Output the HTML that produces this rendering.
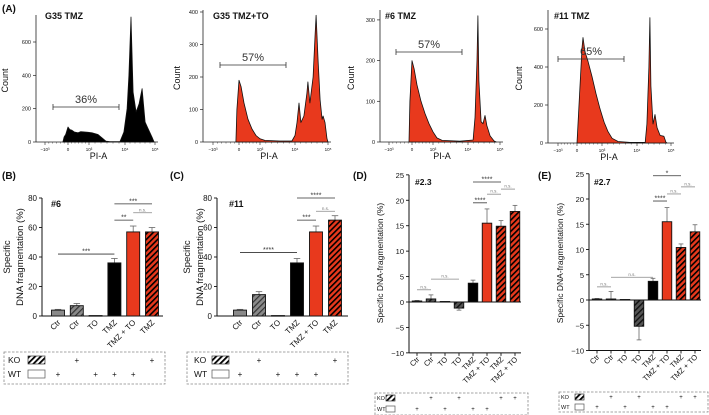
<!DOCTYPE html>
<html><head><meta charset="utf-8">
<style>
body{margin:0;background:#fff;}
svg{display:block;font-family:"Liberation Sans",Arial,sans-serif;}
</style></head>
<body>
<svg id="fig" width="709" height="415" viewBox="0 0 709 415" xmlns="http://www.w3.org/2000/svg">
<defs>
<pattern id="hatchRed" patternUnits="userSpaceOnUse" width="4" height="4" patternTransform="rotate(45)"><rect width="4" height="4" fill="#e8391d"/><rect width="1.6" height="4" fill="#000"/></pattern>
<pattern id="hatchGrey" patternUnits="userSpaceOnUse" width="4" height="4" patternTransform="rotate(45)"><rect width="4" height="4" fill="#8a8a8a"/><rect width="1.2" height="4" fill="#333"/></pattern>
<pattern id="hatchDark" patternUnits="userSpaceOnUse" width="4" height="4" patternTransform="rotate(45)"><rect width="4" height="4" fill="#555"/><rect width="1.4" height="4" fill="#111"/></pattern>
<pattern id="hatchLeg" patternUnits="userSpaceOnUse" width="4" height="4" patternTransform="rotate(45)"><rect width="4" height="4" fill="#fff"/><rect width="1.8" height="4" fill="#000"/></pattern>
</defs>
</svg>
<script>
// ===== Histogram data (u: decade position, -10^3=0, 0=1, 10^3=2, 10^4=3, 10^5=4) =====
const histA1U = [0.78,0.83,0.9,1,1.08,1.19,1.3,1.48,1.6,1.81,1.95,2.08,2.25,2.39,2.47,2.58,2.86,2.97,3.07,3.13,3.2,3.27,3.37,3.47,3.57,3.67,3.77,3.9,3.97];
const histA1C = [0,30,45,90,75,70,60,55,62,60,58,55,45,20,5,2,3,60,200,400,750,300,180,230,320,120,80,30,0];
const histA2U = [0.88,0.92,1,1.1,1.24,1.43,1.62,1.81,2,2.14,2.57,2.91,3,3.06,3.12,3.18,3.27,3.36,3.39,3.45,3.55,3.61,3.64,3.7,3.76,3.82,3.85,3.91,3.97,4];
const histA2C = [0,100,190,170,120,70,40,20,10,5,3,3,20,60,120,60,80,150,185,120,200,330,390,250,130,70,80,60,10,0];
const histA3U = [0.87,0.91,1,1.1,1.24,1.43,1.62,1.81,2,2.11,2.26,2.77,3.16,3.22,3.28,3.31,3.34,3.41,3.47,3.53,3.59,3.69,3.81,3.88];
const histA3C = [0,100,200,180,140,100,70,45,25,10,4,2,5,60,200,310,150,50,45,65,40,15,3,0];
const histA4U = [1,1.04,1.12,1.2,1.24,1.32,1.44,1.6,1.76,1.92,2.06,2.17,2.29,2.46,2.8,3.24,3.29,3.35,3.38,3.41,3.47,3.53,3.59,3.68,3.79,3.85,3.88];
const histA4C = [0,100,300,500,555,480,430,350,260,180,110,60,25,8,3,3,100,400,660,300,100,150,80,40,35,5,0];
const gatePct = ["36%","57%","57%","65%"];

// ===== Bar data =====
const catsB = ["Ctr","Ctr","TO","TMZ","TMZ + TO","TMZ"];
const valsB = [4,7,0.3,36,57,57];
const errB = [0.5,1.5,0,3,4,3];
const catsC = ["Ctr","Ctr","TO","TMZ","TMZ + TO","TMZ"];
const valsC = [4,14.5,0.3,36,57,65];
const errC = [0.5,2,0,3,4,3];
const catsD = ["Ctr","Ctr","TO","TO","TMZ","TMZ + TO","TMZ","TMZ + TO"];
const valsD = [0.2,0.6,0.1,-1.2,3.7,15.5,14.9,17.8];
const errD = [0.1,0.8,0,0.4,0.6,2.8,1.1,1.2];
const catsE = ["Ctr","Ctr","TO","TO","TMZ","TMZ + TO","TMZ","TMZ + TO"];
const valsE = [0.2,0.2,0.1,-5.2,3.7,15.5,10.4,13.5];
const errE = [0.1,1.5,0,2.7,0.6,2.8,0.7,1.4];
const ticksBC = [0,20,40,60,80];
const ticksDE = [-10,-5,0,5,10,15,20,25];
// significance: [from, to, value level, label]
const sigB = [[0,3,42,"***"],[3,4,65,"**"],[4,5,70,"n.s."],[3,5,76,"***"]];
const sigC = [[0,3,43,"****"],[3,4,65,"***"],[4,5,71,"n.s."],[3,5,80,"****"]];
const sigD = [[0,1,2.4,"n.s."],[1,3,4.5,"n.s."],[4,5,19.5,"****"],[5,6,21.2,"n.s."],[6,7,22.2,"n.s."],[4,6,23.6,"****"]];
const sigE = [[0,1,2.6,"n.s."],[1,4,4.5,"n.s."],[4,5,19.6,"****"],[5,6,21,"n.s."],[6,7,22.4,"n.s."],[4,6,24.6,"*"]];
const koB = [0,1,0,0,0,1], wtB = [1,0,1,1,1,0];
const koC = [0,1,0,0,0,1], wtC = [1,0,1,1,1,0];
const koD = [0,1,0,1,0,0,1,1], wtD = [1,0,1,0,1,1,0,0];
const koE = [0,1,0,1,0,0,1,1], wtE = [1,0,1,0,1,1,0,0];

const svg = document.getElementById('fig');
const NS = "http://www.w3.org/2000/svg";
function el(tag, attrs, parent, text){
  const e = document.createElementNS(NS, tag);
  for (const k in attrs) e.setAttribute(k, attrs[k]);
  if (text !== undefined) e.textContent = text;
  (parent||svg).appendChild(e);
  return e;
}
function txt(x,y,s,size,parent,extra){
  const a = {x:x,y:y,'font-size':size,fill:'#111'};
  if (extra) for (const k in extra) a[k]=extra[k];
  return el('text',a,parent,s);
}

// ===== Histograms =====
function hist(cfg){
  const g = el('g',{});
  
  
  const tp = cfg.tickPx;
  const xOf = u => { const i = Math.min(3, Math.max(0, Math.floor(u))); return tp[i] + (u - i)*(tp[i+1]-tp[i]); };
  const yOf = c => cfg.base - c*cfg.pxPer;
  el('line',{x1:cfg.ax,y1:cfg.top,x2:cfg.ax,y2:cfg.base,stroke:'#222','stroke-width':0.8},g);
  cfg.yTicks.forEach(t=>{
    const y=yOf(t);
    el('line',{x1:cfg.ax-3,y1:y,x2:cfg.ax,y2:y,stroke:'#222','stroke-width':0.7},g);
    txt(cfg.ax-5,y+2,String(t),5.5,g,{'text-anchor':'end'});
  });
  el('line',{x1:cfg.ax,y1:cfg.base,x2:tp[4]+3,y2:cfg.base,stroke:'#222','stroke-width':0.8},g);
  const lbl=["\u221210\u00b3","0","10\u00b3","10\u2074","10\u2075"];
  tp.forEach((x,i)=>{
    el('line',{x1:x,y1:cfg.base,x2:x,y2:cfg.base+3,stroke:'#222','stroke-width':0.6},g);
    txt(x,cfg.base+9,lbl[i],4.5,g,{'text-anchor':'middle'});
    if(i<4){ for(let k=1;k<6;k++){ const xm=x+(tp[i+1]-x)*k/6; el('line',{x1:xm,y1:cfg.base,x2:xm,y2:cfg.base+1.6,stroke:'#222','stroke-width':0.4},g);} }
  });
  txt((tp[1]+tp[3])/2+2,cfg.base+17,"PI-A",9,g,{'text-anchor':'middle'});
  txt(cfg.countX,(cfg.top+cfg.base)/2+2,"Count",9,g,{'text-anchor':'middle',transform:`rotate(-90 ${cfg.countX} ${(cfg.top+cfg.base)/2+2})`});
  let d = `M${xOf(cfg.u[0]).toFixed(1)},${cfg.base}`;
  cfg.u.forEach((u,i)=>{ d += ` L${xOf(u).toFixed(1)},${yOf(cfg.c[i]).toFixed(1)}`; });
  d += ` L${xOf(cfg.u[cfg.u.length-1]).toFixed(1)},${cfg.base} Z`;
  const p = el('path',{d:d,fill:cfg.fill,stroke:'#111','stroke-width':0.8,'stroke-linejoin':'round'},g);
  
  
  el('line',{x1:cfg.gate[0],y1:cfg.gate[2],x2:cfg.gate[1],y2:cfg.gate[2],stroke:'#333','stroke-width':0.8},g);
  el('line',{x1:cfg.gate[0],y1:cfg.gate[2]-3,x2:cfg.gate[0],y2:cfg.gate[2]+3,stroke:'#333','stroke-width':0.8},g);
  el('line',{x1:cfg.gate[1],y1:cfg.gate[2]-3,x2:cfg.gate[1],y2:cfg.gate[2]+3,stroke:'#333','stroke-width':0.8},g);
  txt((cfg.gate[0]+cfg.gate[1])/2,cfg.gate[2]-4,cfg.pct,11,g,{'text-anchor':'middle',fill:'#333'});
  txt(cfg.titleX,19,cfg.title,9,g,{'font-weight':'bold'});
}
hist({name:'histogram-g35-tmz',tickPx:[45,68,89,125,155],ax:36,top:15,base:142,pxPer:100/600,yTicks:[0,200,400,600],u:histA1U,c:histA1C,fill:'#000',gate:[53,119,107],pct:gatePct[0],title:'G35 TMZ',titleX:45,countX:8});
hist({name:'histogram-g35-tmz-to',tickPx:[213,239,260,295,328],ax:203,top:10,base:142,pxPer:32.5/100,yTicks:[0,100,200,300,400],u:histA2U,c:histA2C,fill:'#e8391d',gate:[220,286,65],pct:gatePct[1],title:'G35 TMZ+TO',titleX:213,countX:180});
hist({name:'histogram-6-tmz',tickPx:[389,412,433,468,500],ax:380,top:10,base:142,pxPer:40.7/100,yTicks:[0,100,200,300],u:histA3U,c:histA3C,fill:'#e8391d',gate:[396,462,52],pct:gatePct[2],title:'#6 TMZ',titleX:385,countX:354});
hist({name:'histogram-11-tmz',tickPx:[558,577,602,637,671],ax:548,top:10,base:143,pxPer:38/200,yTicks:[0,200,400,600],u:histA4U,c:histA4C,fill:'#e8391d',gate:[558,624,59],pct:gatePct[3],title:'#11 TMZ',titleX:554,countX:522});
txt(2,12,"(A)",10,null,{'font-weight':'bold'});

// ===== Bar panels =====
function bars(cfg){
  const g = el('g',{});
  
  
  const y = v => cfg.y0 - v*cfg.k;
  const xc = i => cfg.x0 + i*cfg.step;
  const bot = y(cfg.ticks[0]);
  el('line',{x1:cfg.ax,y1:y(cfg.ticks[cfg.ticks.length-1]),x2:cfg.ax,y2:bot,stroke:'#111','stroke-width':1},g);
  cfg.ticks.forEach(t=>{
    el('line',{x1:cfg.ax-3,y1:y(t),x2:cfg.ax,y2:y(t),stroke:'#111','stroke-width':0.9},g);
    txt(cfg.ax-5,y(t)+3,t<0?"\u2212"+(-t):String(t),cfg.fs,g,{'text-anchor':'end'});
  });
  el('line',{x1:cfg.ax,y1:bot,x2:cfg.xEnd,y2:bot,stroke:'#111','stroke-width':1},g);
  if (cfg.ticks[0] < 0) {
    el('line',{x1:cfg.ax,y1:y(0),x2:cfg.xEnd,y2:y(0),stroke:'#111','stroke-width':1},g);
  }
  cfg.vals.forEach((v,i)=>{
    const x = xc(i);
    const top = Math.min(y(v), y(0)), h = Math.abs(y(v)-y(0));
    const e = cfg.err[i];
    if (e>0){
      const ye = v>=0 ? y(v+e) : y(v-e);
      el('line',{x1:x,y1:y(v),x2:x,y2:ye,stroke:'#666','stroke-width':0.8},g);
      el('line',{x1:x-cfg.bw/4,y1:ye,x2:x+cfg.bw/4,y2:ye,stroke:'#666','stroke-width':0.8},g);
    }
    const r = el('rect',{x:x-cfg.bw/2,y:top,width:cfg.bw,height:Math.max(h,0.6),fill:cfg.fills[i],stroke:'#111','stroke-width':0.9},g);
    
    
    if (cfg.ticks[0] < 0) el('line',{x1:x,y1:bot,x2:x,y2:bot+3,stroke:'#111','stroke-width':0.9},g);
    const lx = x+3, ly = bot+7;
    txt(lx,ly,cfg.cats[i],cfg.fs,g,{'text-anchor':'end',transform:`rotate(-45 ${lx} ${ly})`});
  });
  cfg.sig.forEach(s=>{
    const yy = y(s[2]);
    const l = el('line',{x1:xc(s[0]),y1:yy,x2:xc(s[1]),y2:yy,stroke:s[3]==="n.s."?'#888':'#333','stroke-width':0.8},g);
    
    
    txt((xc(s[0])+xc(s[1]))/2,yy-(s[3]==="n.s."?1.5:0.5),s[3],s[3]==="n.s."?4.5:7,g,{'text-anchor':'middle',fill:s[3]==="n.s."?'#777':'#333'});
  });
  txt(cfg.tagX,cfg.tagY,cfg.tag,cfg.tagFs,g,{'font-weight':'bold'});
  txt(cfg.letterX,179,cfg.letter,10,g,{'font-weight':'bold'});
  cfg.ylab.forEach(l=>{ txt(l[0],l[1],l[2],cfg.ylfs,g,{'text-anchor':'middle',transform:`rotate(-90 ${l[0]} ${l[1]})`}); });
  const L = cfg.leg;
  const lg = el('g',{},g);
  
  
  el('rect',{x:L.x,y:L.y,width:L.w,height:L.h,fill:'none',stroke:'#888','stroke-width':0.8,'stroke-dasharray':'2.5,1.5'},lg);
  txt(L.tx,L.r1+L.fs*0.35,"KO",L.fs,lg);
  txt(L.tx,L.r2+L.fs*0.35,"WT",L.fs,lg);
  el('rect',{x:L.sx,y:L.r1-L.sh/2,width:L.sw,height:L.sh,fill:'url(#hatchLeg)',stroke:'#333','stroke-width':0.7},lg);
  el('rect',{x:L.sx,y:L.r2-L.sh/2,width:L.sw,height:L.sh,fill:'#fff',stroke:'#555','stroke-width':0.7},lg);
  cfg.ko.forEach((f,i)=>{ if(f) txt(xc(i),L.r1+L.ps*0.35,"+",L.ps,lg,{'text-anchor':'middle'}); });
  cfg.wt.forEach((f,i)=>{ if(f) txt(xc(i),L.r2+L.ps*0.35,"+",L.ps,lg,{'text-anchor':'middle'}); });
}
const fillsBC = ['#8a8a8a','url(#hatchGrey)','#8a8a8a','#000','#e8391d','url(#hatchRed)'];
const fillsDE = ['#444','url(#hatchDark)','#444','url(#hatchDark)','#000','#e8391d','url(#hatchRed)','url(#hatchRed)'];
bars({name:'panel-b',cats:catsB,vals:valsB,err:errB,sig:sigB,ko:koB,wt:wtB,ticks:ticksBC,y0:316,k:118/80,ax:42,x0:58,step:18.8,bw:13,xEnd:163,fs:8,fills:fillsBC,
  tag:'#6',tagX:51,tagY:207,tagFs:9,letter:'(B)',letterX:2,ylfs:9.5,ylab:[[10,257,'Specific'],[23,257,'DNA fragmentation (%)']],
  leg:{x:4,y:352,w:161,h:32,tx:8,r1:360,r2:374,sx:28,sw:17,sh:8,fs:8.5,ps:8}});
bars({name:'panel-c',cats:catsC,vals:valsC,err:errC,sig:sigC,ko:koC,wt:wtC,ticks:ticksBC,y0:316,k:118/80,ax:217,x0:240,step:19,bw:13,xEnd:348,fs:8,fills:fillsBC,
  tag:'#11',tagX:229,tagY:207,tagFs:9,letter:'(C)',letterX:170,ylfs:9.5,ylab:[[190,257,'Specific'],[203,257,'DNA fragmentation (%)']],
  leg:{x:187,y:352,w:161,h:32,tx:194,r1:360,r2:374,sx:212,sw:17,sh:8,fs:8.5,ps:8}});
bars({name:'panel-d',cats:catsD,vals:valsD,err:errD,sig:sigD,ko:koD,wt:wtD,ticks:ticksDE,y0:302,k:5.086,ax:409,x0:417,step:14,bw:9.5,xEnd:521,fs:7.5,fills:fillsDE,
  tag:'#2.3',tagX:415,tagY:185,tagFs:8.5,letter:'(D)',letterX:353,ylfs:8.5,ylab:[[383,263,'Specific DNA-fragmentation (%)']],
  leg:{x:375,y:393,w:153,h:22,tx:377,r1:398,r2:409,sx:386,sw:9,sh:6,fs:5.5,ps:6}});
bars({name:'panel-e',cats:catsE,vals:valsE,err:errE,sig:sigE,ko:koE,wt:wtE,ticks:ticksDE,y0:300,k:5.05,ax:589,x0:597,step:14,bw:9.5,xEnd:701,fs:7.5,fills:fillsDE,
  tag:'#2.7',tagX:594,tagY:185,tagFs:8.5,letter:'(E)',letterX:538,ylfs:8.5,ylab:[[563,263,'Specific DNA-fragmentation (%)']],
  leg:{x:559,y:392,w:149,h:20,tx:561,r1:397,r2:407,sx:575,sw:9,sh:6,fs:5.5,ps:6}});
</script>
</body></html>
